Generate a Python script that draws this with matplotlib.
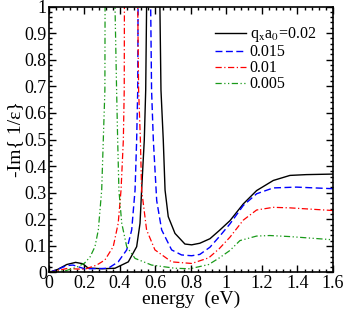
import numpy as np
import matplotlib
matplotlib.use("Agg")
import matplotlib.pyplot as plt
from matplotlib.ticker import MultipleLocator

plt.rcParams['font.family'] = ['Liberation Serif', 'DejaVu Serif']
plt.rcParams['mathtext.fontset'] = 'stix'

# q_x a_0 = 0.02
e1 = [0, 0.05, 0.1, 0.15, 0.19, 0.22, 0.3, 0.372, 0.447, 0.494, 0.513, 0.522, 0.537, 0.545,
      0.55, 0.588, 0.625, 0.631, 0.644, 0.654, 0.672, 0.71, 0.766, 0.804, 0.85, 0.907, 0.96,
      1.02, 1.095, 1.17, 1.264, 1.358, 1.45, 1.6]
v1 = [0, 0.012, 0.03, 0.038, 0.033, 0.017, 0.014, 0.016, 0.04, 0.097, 0.185, 0.31, 0.498, 0.686,
      1.0, 4.0, 1.0, 0.686, 0.498, 0.31, 0.21, 0.147, 0.107, 0.104, 0.11, 0.127, 0.158,
      0.195, 0.258, 0.308, 0.346, 0.365, 0.368, 0.37]

# 0.015
e2 = [0, 0.05, 0.1, 0.135, 0.2, 0.3, 0.334, 0.39, 0.438, 0.466, 0.485, 0.494, 0.50, 0.502,
      0.538, 0.573, 0.578, 0.588, 0.607, 0.635, 0.691, 0.747, 0.804, 0.85, 0.907, 0.96,
      1.02, 1.095, 1.17, 1.264, 1.395, 1.6]
v2 = [0, 0.012, 0.026, 0.028, 0.014, 0.015, 0.016, 0.04, 0.085, 0.16, 0.31, 0.498, 0.686, 1.0,
      4.0, 1.0, 0.686, 0.498, 0.27, 0.16, 0.085, 0.066, 0.063, 0.068, 0.095, 0.135,
      0.183, 0.252, 0.296, 0.318, 0.321, 0.315]

# 0.01
e3 = [0, 0.1, 0.2, 0.269, 0.315, 0.362, 0.39, 0.406, 0.419, 0.424, 0.425, 0.462, 0.50, 0.505,
      0.515, 0.522, 0.55, 0.597, 0.691, 0.804, 0.9, 0.96, 1.02, 1.095, 1.17, 1.264, 1.358, 1.6]
v3 = [0, 0.015, 0.012, 0.028, 0.047, 0.097, 0.185, 0.31, 0.498, 0.686, 1.0, 4.0, 1.0, 0.686,
      0.498, 0.31, 0.16, 0.085, 0.04, 0.034, 0.055, 0.09, 0.133, 0.197, 0.235, 0.245, 0.243, 0.233]

# 0.005
e4 = [0, 0.1, 0.156, 0.2, 0.231, 0.259, 0.278, 0.297, 0.306, 0.315, 0.316, 0.344, 0.372, 0.381,
      0.387, 0.394, 0.41, 0.438, 0.485, 0.578, 0.71, 0.794, 0.9, 0.96, 1.02, 1.076, 1.17,
      1.245, 1.358, 1.6]
v4 = [0, 0.008, 0.02, 0.035, 0.058, 0.097, 0.16, 0.31, 0.498, 0.686, 1.0, 4.0, 1.0, 0.686,
      0.498, 0.31, 0.185, 0.097, 0.053, 0.028, 0.016, 0.014, 0.03, 0.055, 0.083, 0.12, 0.137,
      0.139, 0.135, 0.123]

labels = [r'q$_\mathrm{x}$a$_\mathrm{0}$=0.02', '0.015', '0.01', '0.005']

fig = plt.figure(figsize=(3.45, 3.13), dpi=100)
ax = fig.add_axes([0.142, 0.1294, 0.823, 0.8498])

ax.plot(e1, v1, color='black', lw=1.0, label=labels[0])
ax.plot(e2, v2, color='#0000ff', lw=1.0, dashes=(5, 2.5), label=labels[1])
ax.plot(e3, v3, color='#ff0000', lw=0.9, dashes=(5, 2, 1, 2), label=labels[2])
ax.plot(e4, v4, color='#1a9a1a', lw=0.9, dashes=(5, 2, 1, 2, 1, 2), label=labels[3])

ax.set_xlim(0, 1.6)
ax.set_ylim(0, 1)
ax.xaxis.set_minor_locator(MultipleLocator(0.04))
ax.yaxis.set_minor_locator(MultipleLocator(0.02))
ax.set_xticks(np.arange(0, 1.61, 0.2))
ax.set_xticklabels(['0', '0.2', '0.4', '0.6', '0.8', '1', '1.2', '1.4', '1.6'])
ax.set_yticks(np.arange(0, 1.01, 0.1))
ax.set_yticklabels(['0', '0.1', '0.2', '0.3', '0.4', '0.5', '0.6', '0.7', '0.8', '0.9', '1'])
ax.tick_params(which='both', direction='in', top=True, right=True, labelsize=13, width=1.0, pad=1.5)
ax.tick_params(which='major', length=5)
ax.tick_params(which='minor', length=2.5)
for s in ax.spines.values():
    s.set_linewidth(1.2)

ax.set_xlabel('energy  (eV)', fontsize=14, labelpad=-1)
ax.set_ylabel('-Im{ 1/\u03b5}', fontsize=14, labelpad=0)

ax.legend(loc='upper right', bbox_to_anchor=(0.94, 0.93), frameon=False, fontsize=11.5,
          handlelength=1.9, handletextpad=0.25, labelspacing=0.0, borderaxespad=0, borderpad=0)

fig.savefig('out.png', dpi=100)
